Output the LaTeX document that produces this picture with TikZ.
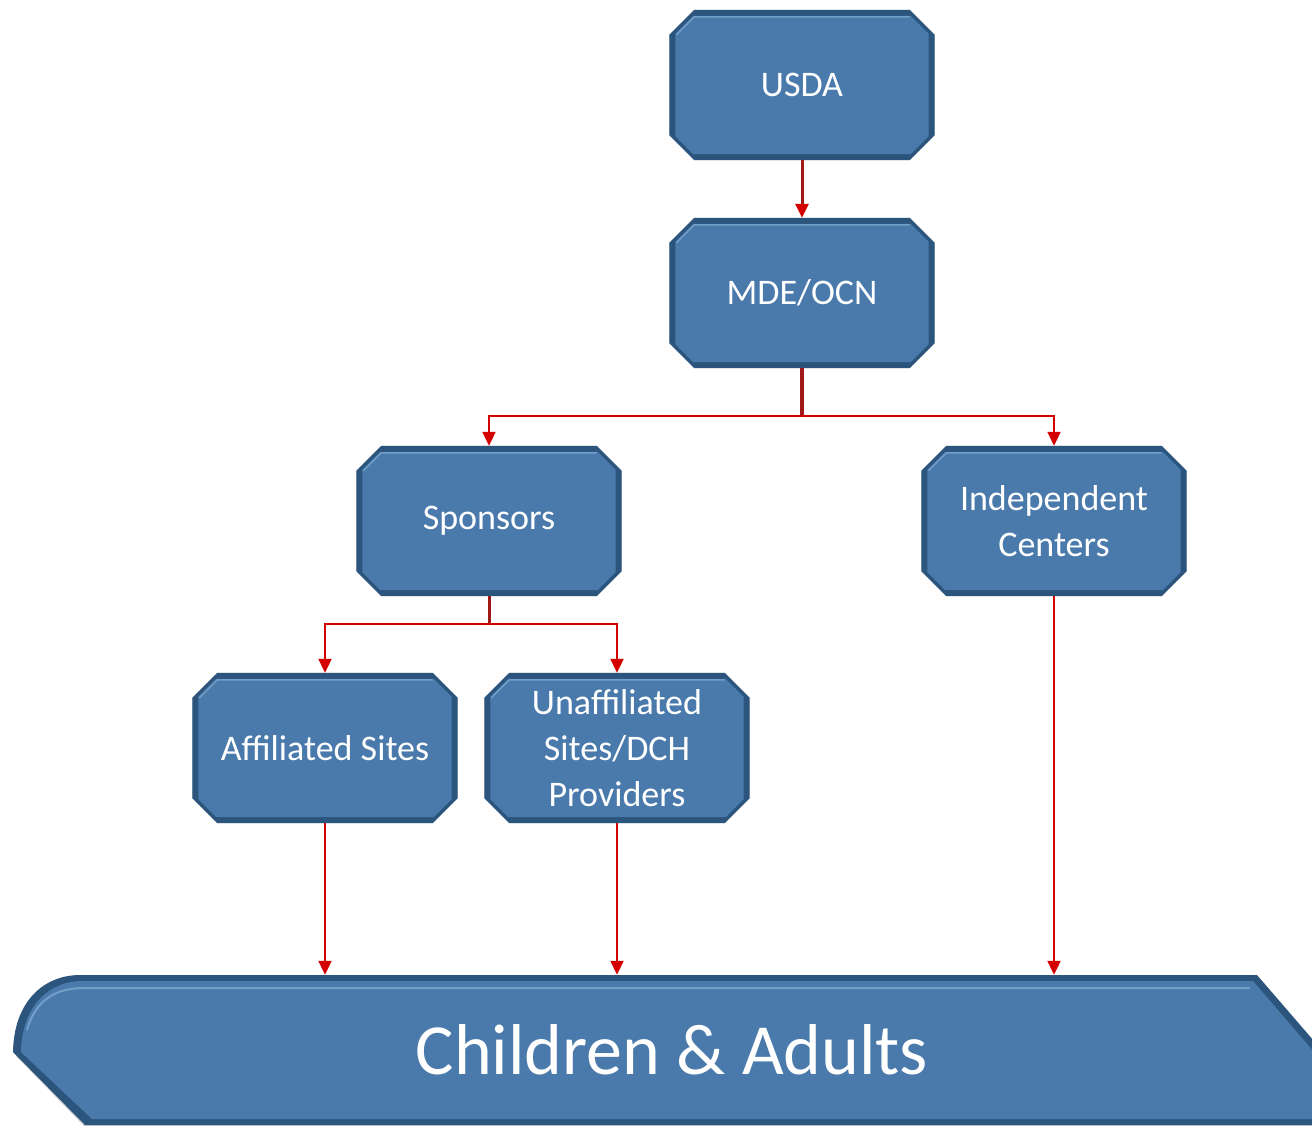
\documentclass[tikz,border=0pt]{standalone}
\usepackage{fontspec}
\setmainfont{Carlito}
\usetikzlibrary{arrows.meta,backgrounds}
\definecolor{boxfill}{HTML}{4A7AAB}
\definecolor{boxdark}{HTML}{2C557E}
\definecolor{boxlight}{HTML}{7EA7D0}
\definecolor{arrred}{HTML}{D40000}
\definecolor{stemred}{HTML}{A01818}
\newcommand\champts[3]{% node, chamfer, inset
([xshift=#2,yshift=-#3]#1.north west) -- ([xshift=-#2,yshift=-#3]#1.north east) --
([xshift=-#3,yshift=-#2]#1.north east) -- ([xshift=-#3,yshift=#2]#1.south east) --
([xshift=-#2,yshift=#3]#1.south east) -- ([xshift=#2,yshift=#3]#1.south west) --
([xshift=#3,yshift=#2]#1.south west) -- ([xshift=#3,yshift=-#2]#1.north west) -- cycle}
\newcommand\mybox[3]{%
  \node[boxtext] (#1) at (#2) {#3};
  \begin{scope}[on background layer]
    \fill[black,opacity=0.22,xshift=3pt,yshift=-4pt] \champts{#1}{25pt}{0pt};
    \fill[boxdark] \champts{#1}{25pt}{0pt};
    \fill[boxfill] \champts{#1}{24pt}{6pt};
    \draw[boxlight,line width=1.5pt,opacity=0.8]
      ([xshift=7pt,yshift=-25pt]#1.north west) -- ([xshift=25pt,yshift=-7pt]#1.north west) --
      ([xshift=-25pt,yshift=-7pt]#1.north east);
  \end{scope}}
\tikzset{
  boxtext/.style={text=white, font=\fontsize{36}{46}\selectfont, align=center,
    minimum width=265pt, minimum height=150pt, inner sep=0pt},
  conn/.style={draw=arrred, line width=2pt, -{Triangle[length=14pt,width=13pt,color=arrred]}},
  stemline/.style={draw=stemred, line width=4pt},
}
\begin{document}
\begin{tikzpicture}[x={(1pt,0)},y={(0,-1pt)}]
\clip (0,0) rectangle (1312,1125);

% band
\fill[black,opacity=0.2] (83,979) -- (1260,979) -- (1323,1052) -- (1323,1130) -- (88,1130) -- (16,1056) .. controls (17,1004) and (48,979) .. (83,979) -- cycle;
\fill[boxdark] (80,975) -- (1257,975) -- (1320,1048) -- (1320,1125) -- (85,1125) -- (13,1052) .. controls (14,1000) and (45,975) .. (80,975) -- cycle;
\fill[boxfill] (82,981) -- (1253,981) -- (1314,1052) -- (1314,1119) -- (92,1119) -- (21,1052) .. controls (22,1005) and (50,981) .. (82,981) -- cycle;
\draw[boxlight,line width=2pt,opacity=0.8] (27,1030) .. controls (36,998) and (58,988) .. (84,988) -- (1250,988);
\node[text=white,font=\fontsize{72}{80}\selectfont,minimum height=150pt,inner sep=0pt] (band) at (672,1050) {Children \& Adults};

\mybox{usda}{802,85}{USDA}
\mybox{mde}{802,293}{MDE/OCN}
\mybox{spons}{489,521}{Sponsors}
\mybox{indep}{1054,521}{Independent\\Centers}
\mybox{aff}{325,748}{Affiliated Sites}
\mybox{unaff}{617,748}{Unaffiliated\\Sites/DCH\\Providers}

\draw[draw=stemred,line width=3pt,-{Triangle[length=14pt,width=13pt,color=arrred]}] (usda.south) -- (mde.north);
\draw[stemline] (mde.south) -- ++(0,48) coordinate (s1);
\draw[conn] (s1) -| (spons.north);
\draw[conn] (s1) -| (indep.north);
\draw[draw=stemred,line width=3pt] (spons.south) -- ++(0,28) coordinate (s2);
\draw[conn] (s2) -| (aff.north);
\draw[conn] (s2) -| (unaff.north);
\draw[conn] (aff.south) -- (aff.south |- band.north);
\draw[conn] (unaff.south) -- (unaff.south |- band.north);
\draw[conn] (indep.south) -- (indep.south |- band.north);
\end{tikzpicture}
\end{document}
